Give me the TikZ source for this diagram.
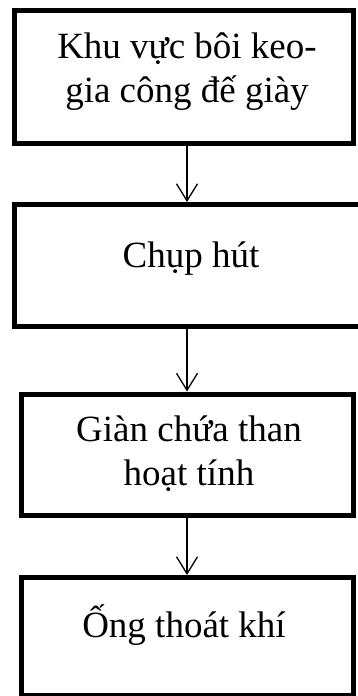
\documentclass[tikz,border=0pt]{standalone}
\usepackage{fontspec}
\setmainfont{Liberation Serif}
\usetikzlibrary{arrows.meta}
\begin{document}
\begin{tikzpicture}[x=1pt,y=-1pt,
  boxnode/.style={draw=black,line width=5pt,rectangle,inner sep=0pt,fill=none},
  label/.style={font=\fontsize{37}{44}\selectfont,align=center,inner sep=0pt},
  flow/.style={draw=black,line width=1.3pt,-{Straight Barb[length=17pt,width=21pt]}}]
\clip (0,0) rectangle (358,696);
\fill[white] (0,0) rectangle (358,696);
\node[boxnode,minimum width=338.7pt,minimum height=133.5pt] (b1) at (183.65,76.75) {};
\node[boxnode,minimum width=347.7pt,minimum height=121.5pt] (b2) at (188.15,265.25) {};
\node[boxnode,minimum width=332pt,minimum height=121.5pt] (b3) at (187.5,454.75) {};
\node[boxnode,minimum width=332pt,minimum height=118pt] (b4) at (187.5,636.5) {};
\node[label,anchor=base] (t1) at (187,102) {Khu vực bôi keo-\\gia công đế giày};
\node[label,anchor=base] (t2) at (191,267) {Chụp hút};
\node[label,anchor=base] (t3) at (189,485) {Giàn chứa than\\hoạt tính};
\node[label,anchor=base] (t4) at (184,637) {Ống thoát khí};
\coordinate (ax) at (187,0);
\draw[flow] (b1.south -| ax) -- (b2.north -| ax);
\draw[flow] (b2.south -| ax) -- (b3.north -| ax);
\draw[flow] (b3.south -| ax) -- (b4.north -| ax);
\end{tikzpicture}
\end{document}
